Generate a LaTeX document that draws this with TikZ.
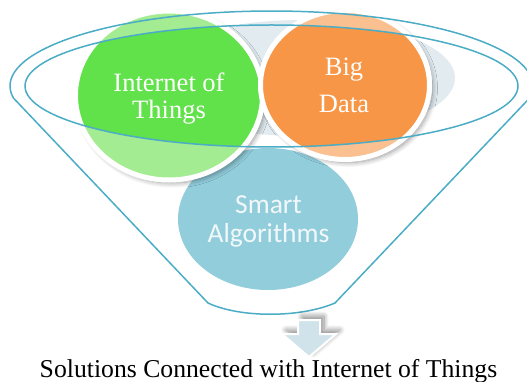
\documentclass[tikz,border=0pt]{standalone}
\usepackage{fontspec}
\setmainfont{Liberation Serif}
\newfontfamily\algofont{Carlito}
\usetikzlibrary{shadows.blur}

\definecolor{funnelblue}{HTML}{4BACC6}
\definecolor{iotgreen}{HTML}{61E14A}
\definecolor{iotgreenlight}{HTML}{A3EC91}
\definecolor{dataorange}{HTML}{F79646}
\definecolor{dataorangelight}{HTML}{FAC090}
\definecolor{algoblue}{HTML}{92CDDC}
\definecolor{algotext}{HTML}{F2F8FA}
\definecolor{mouthblue}{HTML}{E1EBF0}
\definecolor{arrowblue}{HTML}{D0E3EB}

\tikzset{
  funnel/.style={draw=funnelblue, line width=1.5pt},
  bubble/.style={draw=white, line width=5pt},
  bubbleshadow/.style={blur shadow={shadow xshift=3pt, shadow yshift=-3pt,
      shadow blur radius=5pt, shadow blur steps=10, shadow opacity=40}},
  arrowshadow/.style={blur shadow={shadow xshift=4pt, shadow yshift=4pt,
      shadow blur radius=5pt, shadow blur steps=10, shadow opacity=45}},
  label/.style={text=white, align=center, inner sep=0pt},
}

\begin{document}
\begin{tikzpicture}[x=1pt, y=-1pt]
  \useasboundingbox (0,0) rectangle (527,382);

  % Back of the funnel mouth
  \fill[mouthblue] (300,78) ellipse [x radius=155, y radius=58];

  % Smart algorithms
  \fill[algoblue] (268,219) ellipse [x radius=90, y radius=71];

  % Bubbles, pale where the funnel covers them
  \path[bubble, fill=iotgreenlight, bubbleshadow] (169,95.5) ellipse [x radius=93.5, y radius=84.5];
  \path[bubble, fill=dataorangelight, bubbleshadow] (345,85) ellipse [x radius=84.5, y radius=74.5];

  % Bubbles, full colour inside the mouth
  \begin{scope}
    \clip (271.5,86) ellipse [x radius=246.5, y radius=61];
    \path[bubble, fill=iotgreen] (169,95.5) ellipse [x radius=93.5, y radius=84.5];
    \path[bubble, fill=dataorange] (345,85) ellipse [x radius=84.5, y radius=74.5];
  \end{scope}

  % Labels (base is the last line)
  \node[label, font=\fontsize{26.5}{26.5}\selectfont, anchor=base] (iot) at (169,118.5) {Internet of\\Things};
  \node[label, font=\fontsize{26.5}{37}\selectfont, anchor=base] (bigdata) at (344,113) {Big\\Data};
  \node[label, text=algotext, font=\algofont\fontsize{27.5}{29}\selectfont, anchor=base] (algo) at (268.5,242) {Smart\\Algorithms};

  % Funnel outline
  \draw[funnel] (13.4,98) arc [start angle=170.8, end angle=369.2, x radius=261.5, y radius=75]
    -- (335,303) .. controls (300,318) and (240,318) .. (208,303) -- cycle;
  \draw[funnel] (271.5,86) ellipse [x radius=246.5, y radius=61];

  % Arrow out of the funnel
  \draw[draw=white, line width=2pt, fill=arrowblue, arrowshadow]
    (298,320) -- (320,320) -- (320,334) -- (336,334) -- (309,357) -- (282,334) -- (298,334) -- cycle;

  % Caption
  \node[font=\fontsize{25.7}{30}\selectfont, anchor=base, inner sep=0pt] (caption) at (268.5,377.5)
    {Solutions Connected with Internet of Things};
\end{tikzpicture}
\end{document}
